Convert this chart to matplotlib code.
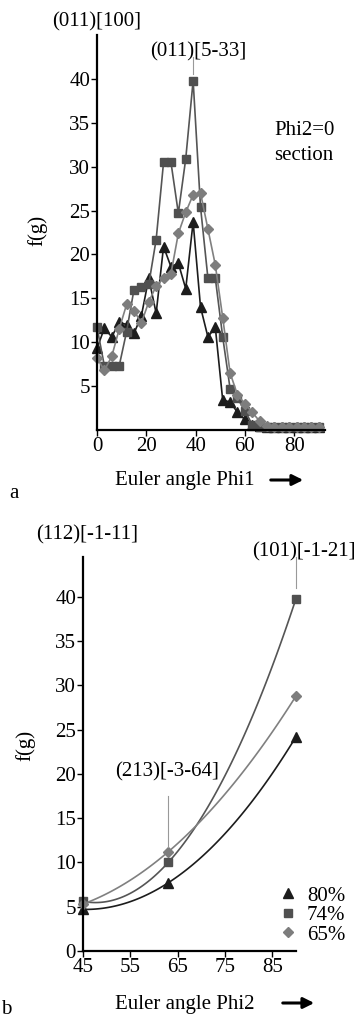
import numpy as np
import matplotlib
matplotlib.use('Agg')
import matplotlib.pyplot as plt

plt.rcParams['font.family'] = ['Liberation Serif', 'DejaVu Serif']

# ---- panel a: Phi2=0 section, f(g) vs Phi1 ----
phi1 = list(range(0, 91, 3))
f80_a = [9.3, 11.6, 10.6, 12.3, 12.0, 11.0, 13.0, 17.3, 13.3, 20.9, 18.6, 19.0, 16.1,
         23.7, 14.0, 10.6, 11.7, 3.4, 3.2, 2.0, 1.2, 0.6, 0.4, 0.3, 0.3, 0.3, 0.3,
         0.3, 0.3, 0.3, 0.3]
f74_a = [11.7, 7.3, 7.3, 7.3, 11.2, 16.0, 16.3, 16.6, 21.7, 30.5, 30.5, 24.7, 30.9,
         39.8, 25.4, 17.3, 17.3, 10.6, 4.7, 3.6, 2.2, 0.6, 0.3, 0.3, 0.3, 0.3, 0.3,
         0.3, 0.3, 0.3, 0.3]
f65_a = [8.2, 6.8, 8.4, 11.5, 14.3, 13.6, 12.2, 14.6, 16.4, 17.3, 17.8, 22.4, 24.8,
         26.8, 27.0, 22.9, 18.8, 12.8, 6.5, 4.0, 3.0, 2.0, 1.0, 0.5, 0.3, 0.3, 0.3,
         0.3, 0.3, 0.3, 0.3]

# ---- panel b: f(g) vs Phi2 ----
phi2 = [45, 63, 90]
f80_b = [4.7, 7.7, 24.2]
f74_b = [5.6, 10.0, 39.8]
f65_b = [5.3, 11.2, 28.8]

labels = ['80%', '74%', '65%']
markers = ['^', 's', 'D']
mcol = ['#1c1c1c', '#505050', '#7d7d7d']
lcol = ['#1c1c1c', '#555555', '#808080']
msize = [6.5, 5.5, 5]

W, H = 358, 1021
fig = plt.figure(figsize=(W / 100, H / 100), dpi=100)


def fx(x):
    return x / W


def fy(y):
    return 1 - y / H


def style(ax):
    ax.spines['top'].set_visible(False)
    ax.spines['right'].set_visible(False)
    ax.spines['left'].set_linewidth(1.6)
    ax.spines['bottom'].set_linewidth(1.6)
    ax.tick_params(labelsize=15, length=4, width=1, pad=1)


# panel a
ax1 = fig.add_axes([fx(97), fy(430), fx(325 - 97), (430 - 35) / H])
for ys, m, mc, lc, ms in zip([f80_a, f74_a, f65_a], markers, mcol, lcol, msize):
    ax1.plot(phi1, ys, color=lc, lw=1.2, marker=m, ms=ms, mfc=mc, mec=mc, clip_on=False)
ax1.set_xlim(0, 92.5)
ax1.set_ylim(0, 45)
ax1.set_xticks([0, 20, 40, 60, 80])
ax1.set_yticks([5, 10, 15, 20, 25, 30, 35, 40])
style(ax1)
ax1.plot([39, 39], [40.5, 42.5], color='#999999', lw=0.8, clip_on=False)

# panel b
ax2 = fig.add_axes([fx(83), fy(951), fx(296 - 83), (951 - 557) / H])
for ys, m, mc, lc, ms, lab in zip([f80_b, f74_b, f65_b], markers, mcol, lcol, msize, labels):
    c = np.polyfit(phi2, ys, 2)
    xs = np.linspace(phi2[0], phi2[-1], 100)
    ax2.plot(xs, np.polyval(c, xs), color=lc, lw=1.2, clip_on=False)
    ax2.plot(phi2, ys, ls='none', marker=m, ms=ms, mfc=mc, mec=mc, clip_on=False, label=lab)
ax2.set_xlim(45, 90)
ax2.set_ylim(0, 44.5)
ax2.set_xticks([45, 55, 65, 75, 85])
ax2.set_yticks([0, 5, 10, 15, 20, 25, 30, 35, 40])
style(ax2)
ax2.plot([90, 90], [41, 44.5], color='#999999', lw=0.8, clip_on=False)
ax2.plot([63, 63], [11.8, 17.5], color='#999999', lw=0.8, clip_on=False)
ax2.legend(loc='upper left', bbox_to_anchor=(fx(280), fy(886)), bbox_transform=fig.transFigure,
           frameon=False, fontsize=15, handlelength=0.8, handletextpad=0.5,
           labelspacing=0.0, borderpad=0, borderaxespad=0)

# texts
fs = 15
fig.text(fx(97), fy(22), '(011)[100]', ha='center', va='center', fontsize=fs)
fig.text(fx(198), fy(52), '(011)[5-33]', ha='center', va='center', fontsize=fs)
fig.text(fx(274), fy(130), 'Phi2=0', ha='left', va='center', fontsize=fs)
fig.text(fx(274), fy(155), 'section', ha='left', va='center', fontsize=fs)
fig.text(fx(37), fy(230), 'f(g)', ha='center', va='center', rotation=90, fontsize=fs)
fig.text(fx(185), fy(480), 'Euler angle Phi1', ha='center', va='center', fontsize=fs)
fig.text(fx(14), fy(493), 'a', ha='center', va='center', fontsize=fs)

fig.text(fx(87), fy(535), '(112)[-1-11]', ha='center', va='center', fontsize=fs)
fig.text(fx(304), fy(552), '(101)[-1-21]', ha='center', va='center', fontsize=fs)
fig.text(fx(167), fy(772), '(213)[-3-64]', ha='center', va='center', fontsize=fs)
fig.text(fx(25), fy(745), 'f(g)', ha='center', va='center', rotation=90, fontsize=fs)
fig.text(fx(185), fy(1004), 'Euler angle Phi2', ha='center', va='center', fontsize=fs)
fig.text(fx(6), fy(1019), 'b', ha='center', va='bottom', fontsize=fs)

for x0, x1, y in [(268, 306, 480), (280, 317, 1003)]:
    fig.add_artist(matplotlib.patches.FancyArrowPatch(
        (fx(x0), fy(y)), (fx(x1), fy(y)), transform=fig.transFigure,
        arrowstyle='-|>', mutation_scale=16, lw=2.2, color='k'))

fig.savefig('out.png', dpi=100)
